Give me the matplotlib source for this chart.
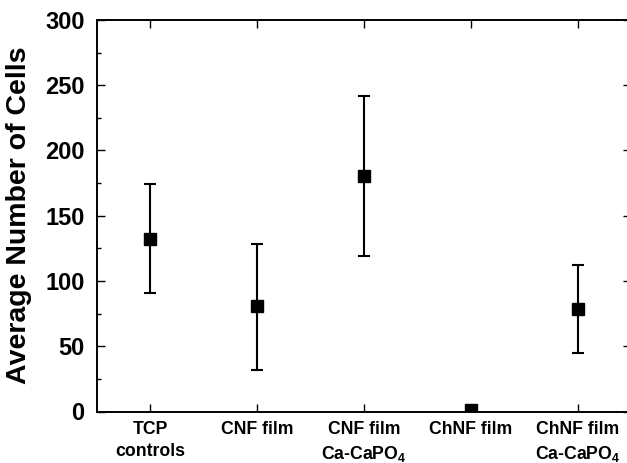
import numpy as np
import matplotlib.pyplot as plt
from matplotlib.ticker import MultipleLocator

plt.rcParams['font.family'] = 'Liberation Sans'
plt.rcParams['font.weight'] = 'bold'
plt.rcParams['mathtext.fontset'] = 'custom'
plt.rcParams['mathtext.rm'] = 'Liberation Sans:bold'
plt.rcParams['mathtext.bf'] = 'Liberation Sans:bold'

# data
labels = ["TCP\ncontrols", "CNF film", "CNF film\nCa-CaPO$_4$",
          "ChNF film", "ChNF film\nCa-CaPO$_4$"]
means = [132.5, 80.5, 180.5, 1.0, 78.5]
err_low = [91, 32, 119, 0, 44.5]
err_high = [174, 128, 242, 2, 112]

x = np.arange(1, len(labels) + 1)
yerr = [np.array(means) - np.array(err_low), np.array(err_high) - np.array(means)]

fig = plt.figure(figsize=(6.27, 4.63), dpi=100)
# right spine is cut off by the image edge in the reference
ax = fig.add_axes([97/627, (463-411.5)/463, 534/627, 391.5/463])

ax.errorbar(x, means, yerr=yerr, fmt='s', color='black', ms=8.5,
            elinewidth=1.5, capsize=4, capthick=1.5, clip_on=True)

ax.set_xlim(0.5, 5.5)
ax.set_ylim(0, 300)
ax.set_xticks(x)
ax.set_xticklabels(labels, fontsize=12.7, fontweight='bold', linespacing=1.4)
ax.yaxis.set_major_locator(MultipleLocator(50))
ax.yaxis.set_minor_locator(MultipleLocator(25))
ax.tick_params(axis='both', which='major', direction='in', length=6, width=1,
               top=True, right=True, labelsize=17)
ax.tick_params(axis='y', pad=9)
ax.tick_params(axis='x', labelsize=12.7, pad=7)
ax.tick_params(axis='y', which='minor', direction='in', length=3, width=1, right=True)
for lab in ax.get_yticklabels():
    lab.set_fontweight('bold')
for s in ax.spines.values():
    s.set_linewidth(1.4)

ax.set_ylabel("Average Number of Cells", fontsize=20.5, fontweight='bold', labelpad=9)

fig.savefig("out.png", dpi=100)
